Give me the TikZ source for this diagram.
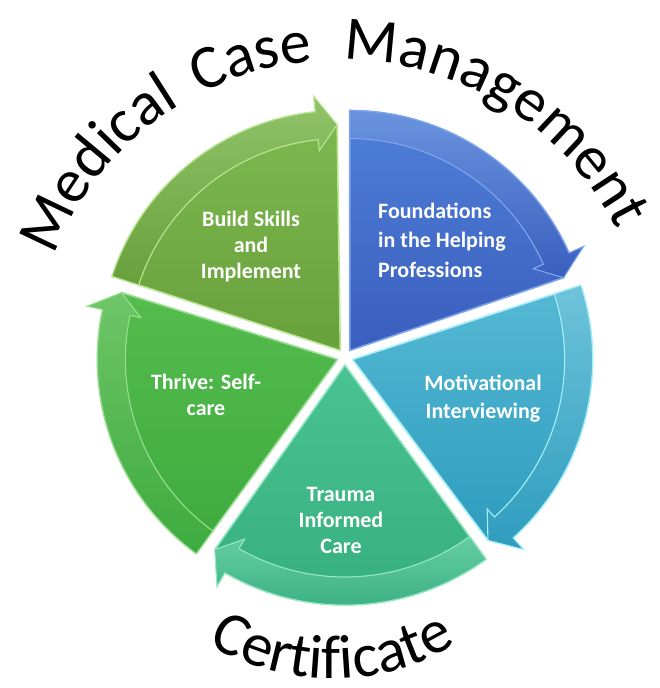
\documentclass[tikz,border=0pt]{standalone}
\usepackage{fontspec}
\setmainfont{Carlito}
\usetikzlibrary{decorations.text}

% segment colours: top, bottom, edge highlight
\definecolor{blueTop}{HTML}{4F80D8}
\definecolor{blueBot}{HTML}{3A5EBE}
\definecolor{blueEdge}{HTML}{7FA6EC}
\definecolor{tealTop}{HTML}{55B9D4}
\definecolor{tealBot}{HTML}{2E9CBE}
\definecolor{tealEdge}{HTML}{A6EEF8}
\definecolor{mintTop}{HTML}{4AC393}
\definecolor{mintBot}{HTML}{35AD7E}
\definecolor{mintEdge}{HTML}{96E6C4}
\definecolor{grassTop}{HTML}{55BC4D}
\definecolor{grassBot}{HTML}{3DAA3E}
\definecolor{grassEdge}{HTML}{98DE90}
\definecolor{leafTop}{HTML}{7EB950}
\definecolor{leafBot}{HTML}{68A03B}
\definecolor{leafEdge}{HTML}{BCE594}

% radii of a segment: outer rim, inner edge of the arrow band, arrow tip, arrow wings
\def\rOut{240}
\def\rIn{212}
\def\rTip{226}
\def\rWingOut{256}
\def\rWingIn{201}

% one pie segment running clockwise from #1 through 72 degrees, with its arrow band
\newcommand\pieSegment[4]{%
  \pgfmathsetmacro\segMid{#1-36}%
  \pgfmathsetmacro\segHead{#1-72+6}%
  \pgfmathsetmacro\segTip{#1-72+0.8}%
  \begin{scope}[shift={(\segMid:8)}]
    \path[top color=#2, bottom color=#3, draw=#4, line width=1.6pt, line join=round]
      (0,0) -- (#1:\rOut) arc[start angle=#1, end angle=\segHead, radius=\rOut]
      -- (\segTip:\rTip) -- cycle;
    \path[top color=#2!85!white, bottom color=#3, draw=#4, line width=1.1pt, line join=miter]
      (#1:\rOut) arc[start angle=#1, end angle=\segHead, radius=\rOut]
      -- (\segHead:\rWingOut) -- (\segTip:\rTip) -- (\segHead:\rWingIn)
      -- (\segHead:\rIn) arc[start angle=\segHead, end angle=#1, radius=\rIn] -- cycle;
  \end{scope}}

% one word of the arched title, set from angle #1 along the title ellipse
\newcommand\archWord[2]{%
  \path[decorate, decoration={text along path, text align=left,
    text={|\fontsize{62}{62}\selectfont|#2}}]
    (#1:305 and 298) arc[start angle=#1, end angle=0, x radius=305, y radius=298];}

\begin{document}
\begin{tikzpicture}[x=1pt,y=1pt,
  segtext/.style={text=white, font=\bfseries\fontsize{22}{26}\selectfont,
    align=center, inner sep=0pt}]
\fill[white] (0,0) rectangle (659,688);
\useasboundingbox (0,0) rectangle (659,688);

% the five segments around the common centre
\begin{scope}[shift={(345,331)}]
  \pieSegment{90}{blueTop}{blueBot}{blueEdge}
  \pieSegment{18}{tealTop}{tealBot}{tealEdge}
  \pieSegment{-54}{mintTop}{mintBot}{mintEdge}
  \pieSegment{-126}{grassTop}{grassBot}{grassEdge}
  \pieSegment{162}{leafTop}{leafBot}{leafEdge}
\end{scope}

% segment captions
\node[segtext] (build) at (251,441) {Build Skills\\and\\Implement};
\node[segtext, align=left, anchor=west, font=\bfseries\fontsize{22}{29.5}\selectfont]
  (found) at (378,448) {Foundations\\in the Helping\\Professions};
\node[segtext, font=\bfseries\fontsize{22}{28}\selectfont] (motiv) at (483,289)
  {Motivational\\Interviewing};
\node[segtext] (trauma) at (341,168) {Trauma\\Informed\\Care};
\node[segtext] (thrive) at (206,293) {Thrive: Self-\\care};

% arched title over the top, one word at a time
\begin{scope}[shift={(341,330)}]
  \archWord{160}{Medical}
  \archWord{117.5}{Case}
  \archWord{89.5}{Management}
\end{scope}

% word bent along the bottom
\begin{scope}[shift={(332,244)}]
  \path[decorate, decoration={text along path, text align=center,
    text={|\fontsize{62}{62}\selectfont|Certificate}}]
    (225:235) arc[start angle=225, end angle=315, radius=235];
\end{scope}
\end{tikzpicture}
\end{document}
